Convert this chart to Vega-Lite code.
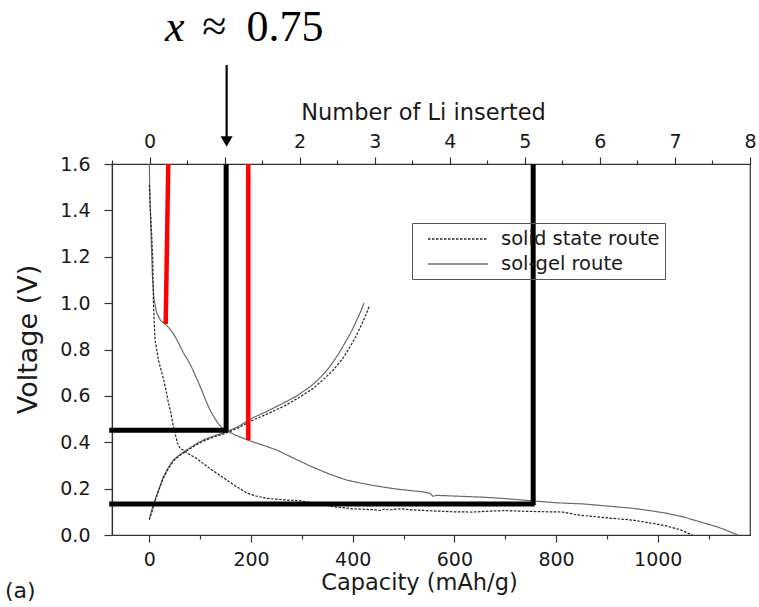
{
  "$schema": "https://vega.github.io/schema/vega-lite/v6.json",
  "width": 638,
  "height": 371,
  "autosize": {"type": "none"},
  "padding": {"left": 112, "top": 164, "right": 9, "bottom": 72},
  "config": {
    "view": {"stroke": "#333", "strokeWidth": 1.2},
    "font": "DejaVu Sans",
    "axis": {
      "domainColor": "#333", "domainWidth": 1.2, "tickColor": "#333", "tickWidth": 1.2,
      "labelColor": "#1a1a1a", "titleColor": "#1a1a1a",
      "labelFont": "DejaVu Sans", "titleFont": "DejaVu Sans",
      "labelFontSize": 19, "titleFontSize": 22.5, "titleFontWeight": "normal", "grid": false
    }
  },
  "datasets": {
    "curves": [
      {"route": "sol-gel route", "seg": "sg-dis", "i": 0, "capacity": 0, "voltage": 1.6},
      {"route": "sol-gel route", "seg": "sg-dis", "i": 1, "capacity": 0.5, "voltage": 1.52},
      {"route": "sol-gel route", "seg": "sg-dis", "i": 2, "capacity": 2, "voltage": 1.4},
      {"route": "sol-gel route", "seg": "sg-dis", "i": 3, "capacity": 4, "voltage": 1.25},
      {"route": "sol-gel route", "seg": "sg-dis", "i": 4, "capacity": 6, "voltage": 1.12},
      {"route": "sol-gel route", "seg": "sg-dis", "i": 5, "capacity": 9, "voltage": 1.02},
      {"route": "sol-gel route", "seg": "sg-dis", "i": 6, "capacity": 14, "voltage": 0.96},
      {"route": "sol-gel route", "seg": "sg-dis", "i": 7, "capacity": 22, "voltage": 0.925},
      {"route": "sol-gel route", "seg": "sg-dis", "i": 8, "capacity": 31, "voltage": 0.91},
      {"route": "sol-gel route", "seg": "sg-dis", "i": 9, "capacity": 40, "voltage": 0.89},
      {"route": "sol-gel route", "seg": "sg-dis", "i": 10, "capacity": 47, "voltage": 0.87},
      {"route": "sol-gel route", "seg": "sg-dis", "i": 11, "capacity": 57, "voltage": 0.83},
      {"route": "sol-gel route", "seg": "sg-dis", "i": 12, "capacity": 67, "voltage": 0.785},
      {"route": "sol-gel route", "seg": "sg-dis", "i": 13, "capacity": 77, "voltage": 0.75},
      {"route": "sol-gel route", "seg": "sg-dis", "i": 14, "capacity": 86, "voltage": 0.71},
      {"route": "sol-gel route", "seg": "sg-dis", "i": 15, "capacity": 95, "voltage": 0.665},
      {"route": "sol-gel route", "seg": "sg-dis", "i": 16, "capacity": 103, "voltage": 0.625},
      {"route": "sol-gel route", "seg": "sg-dis", "i": 17, "capacity": 111, "voltage": 0.58},
      {"route": "sol-gel route", "seg": "sg-dis", "i": 18, "capacity": 119, "voltage": 0.54},
      {"route": "sol-gel route", "seg": "sg-dis", "i": 19, "capacity": 128, "voltage": 0.505},
      {"route": "sol-gel route", "seg": "sg-dis", "i": 20, "capacity": 136, "voltage": 0.48},
      {"route": "sol-gel route", "seg": "sg-dis", "i": 21, "capacity": 143, "voltage": 0.462},
      {"route": "sol-gel route", "seg": "sg-dis", "i": 22, "capacity": 150, "voltage": 0.452},
      {"route": "sol-gel route", "seg": "sg-dis", "i": 23, "capacity": 170, "voltage": 0.43},
      {"route": "sol-gel route", "seg": "sg-dis", "i": 24, "capacity": 195, "voltage": 0.408},
      {"route": "sol-gel route", "seg": "sg-dis", "i": 25, "capacity": 220, "voltage": 0.39},
      {"route": "sol-gel route", "seg": "sg-dis", "i": 26, "capacity": 250, "voltage": 0.367},
      {"route": "sol-gel route", "seg": "sg-dis", "i": 27, "capacity": 285, "voltage": 0.33},
      {"route": "sol-gel route", "seg": "sg-dis", "i": 28, "capacity": 322, "voltage": 0.292},
      {"route": "sol-gel route", "seg": "sg-dis", "i": 29, "capacity": 355, "voltage": 0.262},
      {"route": "sol-gel route", "seg": "sg-dis", "i": 30, "capacity": 388, "voltage": 0.237},
      {"route": "sol-gel route", "seg": "sg-dis", "i": 31, "capacity": 420, "voltage": 0.222},
      {"route": "sol-gel route", "seg": "sg-dis", "i": 32, "capacity": 447, "voltage": 0.211},
      {"route": "sol-gel route", "seg": "sg-dis", "i": 33, "capacity": 490, "voltage": 0.197},
      {"route": "sol-gel route", "seg": "sg-dis", "i": 34, "capacity": 539, "voltage": 0.186},
      {"route": "sol-gel route", "seg": "sg-dis", "i": 35, "capacity": 552, "voltage": 0.18},
      {"route": "sol-gel route", "seg": "sg-dis", "i": 36, "capacity": 558, "voltage": 0.167},
      {"route": "sol-gel route", "seg": "sg-dis", "i": 37, "capacity": 565, "voltage": 0.171},
      {"route": "sol-gel route", "seg": "sg-dis", "i": 38, "capacity": 600, "voltage": 0.168},
      {"route": "sol-gel route", "seg": "sg-dis", "i": 39, "capacity": 657, "voltage": 0.163},
      {"route": "sol-gel route", "seg": "sg-dis", "i": 40, "capacity": 700, "voltage": 0.157},
      {"route": "sol-gel route", "seg": "sg-dis", "i": 41, "capacity": 749, "voltage": 0.148},
      {"route": "sol-gel route", "seg": "sg-dis", "i": 42, "capacity": 800, "voltage": 0.139},
      {"route": "sol-gel route", "seg": "sg-dis", "i": 43, "capacity": 853, "voltage": 0.134},
      {"route": "sol-gel route", "seg": "sg-dis", "i": 44, "capacity": 900, "voltage": 0.125},
      {"route": "sol-gel route", "seg": "sg-dis", "i": 45, "capacity": 952, "voltage": 0.115},
      {"route": "sol-gel route", "seg": "sg-dis", "i": 46, "capacity": 985, "voltage": 0.105},
      {"route": "sol-gel route", "seg": "sg-dis", "i": 47, "capacity": 1017, "voltage": 0.094},
      {"route": "sol-gel route", "seg": "sg-dis", "i": 48, "capacity": 1050, "voltage": 0.078},
      {"route": "sol-gel route", "seg": "sg-dis", "i": 49, "capacity": 1083, "voltage": 0.057},
      {"route": "sol-gel route", "seg": "sg-dis", "i": 50, "capacity": 1120, "voltage": 0.033},
      {"route": "sol-gel route", "seg": "sg-dis", "i": 51, "capacity": 1158, "voltage": 0.0},

      {"route": "solid state route", "seg": "ss-dis", "i": 0, "capacity": 0, "voltage": 1.51},
      {"route": "solid state route", "seg": "ss-dis", "i": 1, "capacity": 1.4, "voltage": 1.42},
      {"route": "solid state route", "seg": "ss-dis", "i": 2, "capacity": 4.7, "voltage": 1.29},
      {"route": "solid state route", "seg": "ss-dis", "i": 3, "capacity": 6.7, "voltage": 1.19},
      {"route": "solid state route", "seg": "ss-dis", "i": 4, "capacity": 7.9, "voltage": 1.01},
      {"route": "solid state route", "seg": "ss-dis", "i": 5, "capacity": 9.5, "voltage": 0.92},
      {"route": "solid state route", "seg": "ss-dis", "i": 6, "capacity": 11.2, "voltage": 0.84},
      {"route": "solid state route", "seg": "ss-dis", "i": 7, "capacity": 14.5, "voltage": 0.8},
      {"route": "solid state route", "seg": "ss-dis", "i": 8, "capacity": 17.7, "voltage": 0.755},
      {"route": "solid state route", "seg": "ss-dis", "i": 9, "capacity": 22, "voltage": 0.72},
      {"route": "solid state route", "seg": "ss-dis", "i": 10, "capacity": 27.5, "voltage": 0.675},
      {"route": "solid state route", "seg": "ss-dis", "i": 11, "capacity": 33, "voltage": 0.62},
      {"route": "solid state route", "seg": "ss-dis", "i": 12, "capacity": 38, "voltage": 0.565},
      {"route": "solid state route", "seg": "ss-dis", "i": 13, "capacity": 42, "voltage": 0.53},
      {"route": "solid state route", "seg": "ss-dis", "i": 14, "capacity": 47, "voltage": 0.47},
      {"route": "solid state route", "seg": "ss-dis", "i": 15, "capacity": 51, "voltage": 0.435},
      {"route": "solid state route", "seg": "ss-dis", "i": 16, "capacity": 55, "voltage": 0.398},
      {"route": "solid state route", "seg": "ss-dis", "i": 17, "capacity": 60, "voltage": 0.376},
      {"route": "solid state route", "seg": "ss-dis", "i": 18, "capacity": 75, "voltage": 0.353},
      {"route": "solid state route", "seg": "ss-dis", "i": 19, "capacity": 93, "voltage": 0.33},
      {"route": "solid state route", "seg": "ss-dis", "i": 20, "capacity": 112, "voltage": 0.298},
      {"route": "solid state route", "seg": "ss-dis", "i": 21, "capacity": 132, "voltage": 0.267},
      {"route": "solid state route", "seg": "ss-dis", "i": 22, "capacity": 152, "voltage": 0.237},
      {"route": "solid state route", "seg": "ss-dis", "i": 23, "capacity": 172, "voltage": 0.208},
      {"route": "solid state route", "seg": "ss-dis", "i": 24, "capacity": 192, "voltage": 0.181},
      {"route": "solid state route", "seg": "ss-dis", "i": 25, "capacity": 210, "voltage": 0.168},
      {"route": "solid state route", "seg": "ss-dis", "i": 26, "capacity": 231, "voltage": 0.158},
      {"route": "solid state route", "seg": "ss-dis", "i": 27, "capacity": 260, "voltage": 0.152},
      {"route": "solid state route", "seg": "ss-dis", "i": 28, "capacity": 296, "voltage": 0.148},
      {"route": "solid state route", "seg": "ss-dis", "i": 29, "capacity": 330, "voltage": 0.135},
      {"route": "solid state route", "seg": "ss-dis", "i": 30, "capacity": 362, "voltage": 0.122},
      {"route": "solid state route", "seg": "ss-dis", "i": 31, "capacity": 400, "voltage": 0.113},
      {"route": "solid state route", "seg": "ss-dis", "i": 32, "capacity": 440, "voltage": 0.109},
      {"route": "solid state route", "seg": "ss-dis", "i": 33, "capacity": 454, "voltage": 0.106},
      {"route": "solid state route", "seg": "ss-dis", "i": 34, "capacity": 462, "voltage": 0.112},
      {"route": "solid state route", "seg": "ss-dis", "i": 35, "capacity": 475, "voltage": 0.109},
      {"route": "solid state route", "seg": "ss-dis", "i": 36, "capacity": 493, "voltage": 0.113},
      {"route": "solid state route", "seg": "ss-dis", "i": 37, "capacity": 520, "voltage": 0.108},
      {"route": "solid state route", "seg": "ss-dis", "i": 38, "capacity": 558, "voltage": 0.104},
      {"route": "solid state route", "seg": "ss-dis", "i": 39, "capacity": 600, "voltage": 0.1},
      {"route": "solid state route", "seg": "ss-dis", "i": 40, "capacity": 637, "voltage": 0.099},
      {"route": "solid state route", "seg": "ss-dis", "i": 41, "capacity": 670, "voltage": 0.103},
      {"route": "solid state route", "seg": "ss-dis", "i": 42, "capacity": 700, "voltage": 0.105},
      {"route": "solid state route", "seg": "ss-dis", "i": 43, "capacity": 760, "voltage": 0.101},
      {"route": "solid state route", "seg": "ss-dis", "i": 44, "capacity": 814, "voltage": 0.099},
      {"route": "solid state route", "seg": "ss-dis", "i": 45, "capacity": 840, "voltage": 0.087},
      {"route": "solid state route", "seg": "ss-dis", "i": 46, "capacity": 900, "voltage": 0.074},
      {"route": "solid state route", "seg": "ss-dis", "i": 47, "capacity": 952, "voltage": 0.064},
      {"route": "solid state route", "seg": "ss-dis", "i": 48, "capacity": 990, "voltage": 0.05},
      {"route": "solid state route", "seg": "ss-dis", "i": 49, "capacity": 1017, "voltage": 0.039},
      {"route": "solid state route", "seg": "ss-dis", "i": 50, "capacity": 1045, "voltage": 0.022},
      {"route": "solid state route", "seg": "ss-dis", "i": 51, "capacity": 1063, "voltage": 0.005},
      {"route": "solid state route", "seg": "ss-dis", "i": 52, "capacity": 1068, "voltage": 0.0},

      {"route": "sol-gel route", "seg": "sg-ch", "i": 0, "capacity": 0, "voltage": 0.072},
      {"route": "sol-gel route", "seg": "sg-ch", "i": 1, "capacity": 5, "voltage": 0.11},
      {"route": "sol-gel route", "seg": "sg-ch", "i": 2, "capacity": 11, "voltage": 0.151},
      {"route": "sol-gel route", "seg": "sg-ch", "i": 3, "capacity": 19, "voltage": 0.2},
      {"route": "sol-gel route", "seg": "sg-ch", "i": 4, "capacity": 27.5, "voltage": 0.251},
      {"route": "sol-gel route", "seg": "sg-ch", "i": 5, "capacity": 37, "voltage": 0.29},
      {"route": "sol-gel route", "seg": "sg-ch", "i": 6, "capacity": 47, "voltage": 0.323},
      {"route": "sol-gel route", "seg": "sg-ch", "i": 7, "capacity": 60, "voltage": 0.347},
      {"route": "sol-gel route", "seg": "sg-ch", "i": 8, "capacity": 73.5, "voltage": 0.367},
      {"route": "sol-gel route", "seg": "sg-ch", "i": 9, "capacity": 90, "voltage": 0.39},
      {"route": "sol-gel route", "seg": "sg-ch", "i": 10, "capacity": 106, "voltage": 0.41},
      {"route": "sol-gel route", "seg": "sg-ch", "i": 11, "capacity": 130, "voltage": 0.43},
      {"route": "sol-gel route", "seg": "sg-ch", "i": 12, "capacity": 152, "voltage": 0.445},
      {"route": "sol-gel route", "seg": "sg-ch", "i": 13, "capacity": 175, "voltage": 0.468},
      {"route": "sol-gel route", "seg": "sg-ch", "i": 14, "capacity": 201, "voltage": 0.503},
      {"route": "sol-gel route", "seg": "sg-ch", "i": 15, "capacity": 230, "voltage": 0.532},
      {"route": "sol-gel route", "seg": "sg-ch", "i": 16, "capacity": 263, "voltage": 0.568},
      {"route": "sol-gel route", "seg": "sg-ch", "i": 17, "capacity": 290, "voltage": 0.6},
      {"route": "sol-gel route", "seg": "sg-ch", "i": 18, "capacity": 316, "voltage": 0.639},
      {"route": "sol-gel route", "seg": "sg-ch", "i": 19, "capacity": 337, "voltage": 0.68},
      {"route": "sol-gel route", "seg": "sg-ch", "i": 20, "capacity": 355, "voltage": 0.726},
      {"route": "sol-gel route", "seg": "sg-ch", "i": 21, "capacity": 372, "voltage": 0.78},
      {"route": "sol-gel route", "seg": "sg-ch", "i": 22, "capacity": 388, "voltage": 0.841},
      {"route": "sol-gel route", "seg": "sg-ch", "i": 23, "capacity": 398, "voltage": 0.88},
      {"route": "sol-gel route", "seg": "sg-ch", "i": 24, "capacity": 408, "voltage": 0.927},
      {"route": "sol-gel route", "seg": "sg-ch", "i": 25, "capacity": 416, "voltage": 0.965},
      {"route": "sol-gel route", "seg": "sg-ch", "i": 26, "capacity": 422, "voltage": 1.0},

      {"route": "solid state route", "seg": "ss-ch", "i": 0, "capacity": 0, "voltage": 0.065},
      {"route": "solid state route", "seg": "ss-ch", "i": 1, "capacity": 5, "voltage": 0.1},
      {"route": "solid state route", "seg": "ss-ch", "i": 2, "capacity": 11, "voltage": 0.145},
      {"route": "solid state route", "seg": "ss-ch", "i": 3, "capacity": 19, "voltage": 0.195},
      {"route": "solid state route", "seg": "ss-ch", "i": 4, "capacity": 27.5, "voltage": 0.245},
      {"route": "solid state route", "seg": "ss-ch", "i": 5, "capacity": 37, "voltage": 0.285},
      {"route": "solid state route", "seg": "ss-ch", "i": 6, "capacity": 47, "voltage": 0.318},
      {"route": "solid state route", "seg": "ss-ch", "i": 7, "capacity": 60, "voltage": 0.343},
      {"route": "solid state route", "seg": "ss-ch", "i": 8, "capacity": 73.5, "voltage": 0.363},
      {"route": "solid state route", "seg": "ss-ch", "i": 9, "capacity": 90, "voltage": 0.386},
      {"route": "solid state route", "seg": "ss-ch", "i": 10, "capacity": 106, "voltage": 0.405},
      {"route": "solid state route", "seg": "ss-ch", "i": 11, "capacity": 130, "voltage": 0.425},
      {"route": "solid state route", "seg": "ss-ch", "i": 12, "capacity": 152, "voltage": 0.44},
      {"route": "solid state route", "seg": "ss-ch", "i": 13, "capacity": 175, "voltage": 0.462},
      {"route": "solid state route", "seg": "ss-ch", "i": 14, "capacity": 204, "voltage": 0.496},
      {"route": "solid state route", "seg": "ss-ch", "i": 15, "capacity": 235, "voltage": 0.525},
      {"route": "solid state route", "seg": "ss-ch", "i": 16, "capacity": 270, "voltage": 0.561},
      {"route": "solid state route", "seg": "ss-ch", "i": 17, "capacity": 296, "voltage": 0.595},
      {"route": "solid state route", "seg": "ss-ch", "i": 18, "capacity": 322, "voltage": 0.632},
      {"route": "solid state route", "seg": "ss-ch", "i": 19, "capacity": 343, "voltage": 0.672},
      {"route": "solid state route", "seg": "ss-ch", "i": 20, "capacity": 362, "voltage": 0.712},
      {"route": "solid state route", "seg": "ss-ch", "i": 21, "capacity": 380, "voltage": 0.76},
      {"route": "solid state route", "seg": "ss-ch", "i": 22, "capacity": 395, "voltage": 0.812},
      {"route": "solid state route", "seg": "ss-ch", "i": 23, "capacity": 407, "voltage": 0.86},
      {"route": "solid state route", "seg": "ss-ch", "i": 24, "capacity": 418, "voltage": 0.91},
      {"route": "solid state route", "seg": "ss-ch", "i": 25, "capacity": 426, "voltage": 0.95},
      {"route": "solid state route", "seg": "ss-ch", "i": 26, "capacity": 433, "voltage": 0.99}
    ],
    "guides": [
      {"kind": "red", "capacity": 37.2, "voltage": 1.6, "capacity2": 32.1, "voltage2": 0.91},
      {"kind": "red", "capacity": 194.6, "voltage": 1.6, "capacity2": 194.6, "voltage2": 0.41},
      {"kind": "black", "capacity": 151, "voltage": 1.6, "capacity2": 151, "voltage2": 0.445},
      {"kind": "black", "capacity": -79, "voltage": 0.452, "capacity2": 153.5, "voltage2": 0.452},
      {"kind": "black", "capacity": 755, "voltage": 1.6, "capacity2": 755, "voltage2": 0.128},
      {"kind": "black", "capacity": -79, "voltage": 0.134, "capacity2": 757.5, "voltage2": 0.134}
    ],
    "arrow": [
      {"capacity": 152, "voltage": 2.027, "capacity2": 152, "voltage2": 1.71}
    ],
    "arrowhead": [
      {"capacity": 152, "voltage": 1.697}
    ],
    "labels": [
      {"part": "x", "capacity": 31, "voltage": 2.13, "label": "x"},
      {"part": "rest", "capacity": 104, "voltage": 2.13, "label": "≈"},
      {"part": "rest", "capacity": 191, "voltage": 2.13, "label": "0.75"},
      {"part": "panel", "capacity": -284, "voltage": -0.27, "label": "(a)"}
    ],
    "top": [
      {"li": 0}
    ]
  },
  "layer": [
    {
      "layer": [
        {
          "data": {"name": "curves"},
          "mark": {"type": "line", "strokeWidth": 1.2},
          "encoding": {
            "x": {
              "field": "capacity", "type": "quantitative",
              "scale": {"domain": [-73.5, 1181.5], "nice": false, "zero": false},
              "axis": {
                "title": "Capacity (mAh/g)", "orient": "bottom",
                "values": [0, 100, 200, 300, 400, 500, 600, 700, 800, 900, 1000, 1100],
                "labelExpr": "datum.value % 200 === 0 ? format(datum.value, 'd') : ''",
                "tickSize": {"condition": {"test": "datum.value % 200 === 0", "value": 7}, "value": 4},
                "labelPadding": 8, "titlePadding": 2, "titleX": 307, "labelFlush": false, "labelOverlap": false
              }
            },
            "y": {
              "field": "voltage", "type": "quantitative",
              "scale": {"domain": [0, 1.6], "nice": false, "zero": false},
              "axis": {
                "title": "Voltage (V)", "orient": "left", "titleFontSize": 27, "titleY": 175,
                "values": [0, 0.1, 0.2, 0.3, 0.4, 0.5, 0.6, 0.7, 0.8, 0.9, 1, 1.1, 1.2, 1.3, 1.4, 1.5, 1.6],
                "labelExpr": "round(datum.value * 10) % 2 === 0 ? format(datum.value, '.1f') : ''",
                "tickSize": {"condition": {"test": "round(datum.value * 10) % 2 === 0", "value": 8}, "value": 4},
                "labelPadding": 14, "titlePadding": 17, "labelFlush": false, "labelOverlap": false
              }
            },
            "detail": {"field": "seg"},
            "order": {"field": "i", "type": "quantitative"},
            "strokeDash": {
              "field": "route", "type": "nominal",
              "scale": {"domain": ["solid state route", "sol-gel route"], "range": [[2.5, 1.5], [1, 0]]},
              "legend": {
                "title": null, "orient": "none", "legendX": 300, "legendY": 59,
                "strokeColor": "#555", "padding": 5, "symbolType": "M0,0H6", "symbolSize": 400,
                "labelOffset": 62, "labelFontSize": 19.5, "labelFont": "DejaVu Sans", "labelColor": "#1a1a1a",
                "rowPadding": 4, "symbolStrokeWidth": 1.5
              }
            },
            "color": {
              "field": "route", "type": "nominal",
              "scale": {"domain": ["solid state route", "sol-gel route"], "range": ["#222222", "#6a6a6a"]},
              "legend": {
                "title": null, "orient": "none", "legendX": 300, "legendY": 59,
                "strokeColor": "#555", "padding": 5, "symbolType": "M0,0H6", "symbolSize": 400,
                "labelOffset": 62, "labelFontSize": 19.5, "labelFont": "DejaVu Sans", "labelColor": "#1a1a1a",
                "rowPadding": 4, "symbolStrokeWidth": 1.5
              }
            }
          }
        },
        {
          "data": {"name": "guides"},
          "transform": [{"filter": "datum.kind === 'red'"}],
          "mark": {"type": "rule", "color": "#ff0000", "strokeWidth": 4.5},
          "encoding": {
            "x": {"field": "capacity", "type": "quantitative", "scale": {"domain": [-73.5, 1181.5], "nice": false, "zero": false}},
            "y": {"field": "voltage", "type": "quantitative", "scale": {"domain": [0, 1.6], "nice": false, "zero": false}},
            "x2": {"field": "capacity2"},
            "y2": {"field": "voltage2"}
          }
        },
        {
          "data": {"name": "guides"},
          "transform": [{"filter": "datum.kind === 'black'"}],
          "mark": {"type": "rule", "color": "#000000", "strokeWidth": 5},
          "encoding": {
            "x": {"field": "capacity", "type": "quantitative", "scale": {"domain": [-73.5, 1181.5], "nice": false, "zero": false}},
            "y": {"field": "voltage", "type": "quantitative", "scale": {"domain": [0, 1.6], "nice": false, "zero": false}},
            "x2": {"field": "capacity2"},
            "y2": {"field": "voltage2"}
          }
        },
        {
          "data": {"name": "arrow"},
          "mark": {"type": "rule", "color": "#000000", "strokeWidth": 2.2},
          "encoding": {
            "x": {"field": "capacity", "type": "quantitative", "scale": {"domain": [-73.5, 1181.5], "nice": false, "zero": false}},
            "y": {"field": "voltage", "type": "quantitative", "scale": {"domain": [0, 1.6], "nice": false, "zero": false}},
            "x2": {"field": "capacity2"},
            "y2": {"field": "voltage2"}
          }
        },
        {
          "data": {"name": "arrowhead"},
          "mark": {"type": "point", "shape": "triangle-down", "filled": true, "color": "#000000", "size": 144, "opacity": 1},
          "encoding": {
            "x": {"field": "capacity", "type": "quantitative", "scale": {"domain": [-73.5, 1181.5], "nice": false, "zero": false}},
            "y": {"field": "voltage", "type": "quantitative", "scale": {"domain": [0, 1.6], "nice": false, "zero": false}}
          }
        },
        {
          "data": {"name": "labels"},
          "transform": [{"filter": "datum.part === 'x'"}],
          "mark": {"type": "text", "font": "Liberation Serif", "fontStyle": "italic", "fontSize": 44, "align": "left", "baseline": "alphabetic", "color": "#000000"},
          "encoding": {
            "x": {"field": "capacity", "type": "quantitative", "scale": {"domain": [-73.5, 1181.5], "nice": false, "zero": false}},
            "y": {"field": "voltage", "type": "quantitative", "scale": {"domain": [0, 1.6], "nice": false, "zero": false}},
            "text": {"field": "label"}
          }
        },
        {
          "data": {"name": "labels"},
          "transform": [{"filter": "datum.part === 'rest'"}],
          "mark": {"type": "text", "font": "Liberation Serif", "fontSize": 44, "align": "left", "baseline": "alphabetic", "color": "#000000"},
          "encoding": {
            "x": {"field": "capacity", "type": "quantitative", "scale": {"domain": [-73.5, 1181.5], "nice": false, "zero": false}},
            "y": {"field": "voltage", "type": "quantitative", "scale": {"domain": [0, 1.6], "nice": false, "zero": false}},
            "text": {"field": "label"}
          }
        },
        {
          "data": {"name": "labels"},
          "transform": [{"filter": "datum.part === 'panel'"}],
          "mark": {"type": "text", "font": "DejaVu Sans", "fontSize": 22, "align": "left", "baseline": "alphabetic", "color": "#1a1a1a"},
          "encoding": {
            "x": {"field": "capacity", "type": "quantitative", "scale": {"domain": [-73.5, 1181.5], "nice": false, "zero": false}},
            "y": {"field": "voltage", "type": "quantitative", "scale": {"domain": [0, 1.6], "nice": false, "zero": false}},
            "text": {"field": "label"}
          }
        }
      ]
    },
    {
      "data": {"name": "top"},
      "mark": {"type": "point", "opacity": 0},
      "encoding": {
        "x": {
          "field": "li", "type": "quantitative",
          "scale": {"domain": [-0.5, 8], "nice": false, "zero": false},
          "axis": {
            "title": "Number of Li inserted", "orient": "top",
            "values": [-0.5, 0, 0.5, 1, 1.5, 2, 2.5, 3, 3.5, 4, 4.5, 5, 5.5, 6, 6.5, 7, 7.5, 8],
            "labelExpr": "datum.value % 1 === 0 && datum.value !== 1 ? format(datum.value, 'd') : ''",
            "tickSize": {"condition": {"test": "datum.value % 1 === 0", "value": 7}, "value": 4},
            "labelPadding": 6, "titlePadding": 8, "titleX": 311, "labelFlush": false, "labelOverlap": false
          }
        }
      }
    }
  ],
  "resolve": {"scale": {"x": "independent"}}
}
